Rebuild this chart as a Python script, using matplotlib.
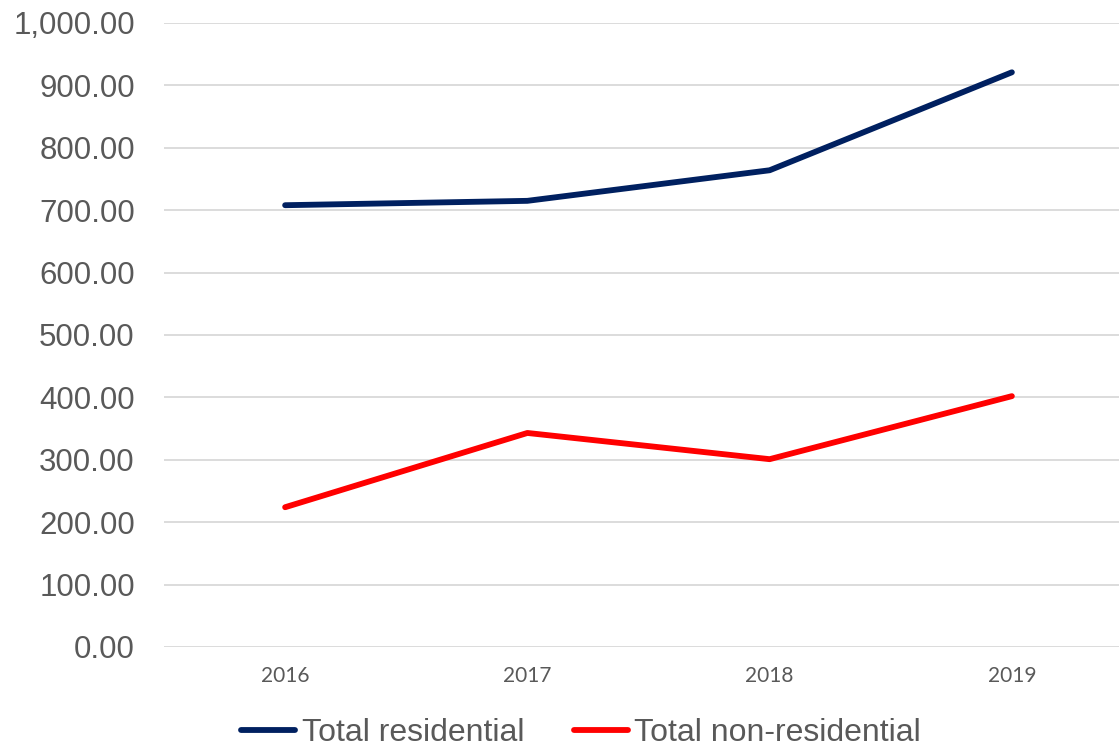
import matplotlib.pyplot as plt
from matplotlib.ticker import FuncFormatter

years = ["2016", "2017", "2018", "2019"]
residential = [708, 715, 764, 921]
non_residential = [224, 343, 301, 402]

plt.rcParams["font.family"] = ["Liberation Sans", "DejaVu Sans"]

fig = plt.figure(figsize=(11.19, 7.49), dpi=100)
ax = fig.add_axes([164 / 1119, 102 / 749, 969 / 1119, 624 / 749])

x = range(len(years))
ax.plot(x, residential, color="#002060", lw=4.2, label="Total residential",
        solid_capstyle="round", zorder=3)
ax.plot(x, non_residential, color="#FF0000", lw=4.2, label="Total non-residential",
        solid_capstyle="round", zorder=3)

ax.set_xlim(-0.5, 3.5)
ax.set_ylim(0, 1000)
ax.set_yticks(range(0, 1001, 100))
ax.yaxis.set_major_formatter(FuncFormatter(lambda v, p: f"{v:,.2f}"))
ax.set_xticks(list(x))
ax.set_xticklabels(years, fontfamily="Lato", fontsize=15, color="#595959")
ax.tick_params(axis="y", length=0, pad=21, labelsize=22.5, labelcolor="#595959")
ax.tick_params(axis="x", length=0, pad=14)
ax.grid(axis="y", color="#D9D9D9", lw=1.3)
ax.set_axisbelow(True)
for s in ax.spines.values():
    s.set_visible(False)

fig.legend(loc="center", bbox_to_anchor=(581 / 1119, 16 / 749), ncol=2,
           frameon=False, fontsize=23, handlelength=1.7, handletextpad=0.2,
           columnspacing=1.55, labelcolor="#595959")

fig.savefig("out.png", dpi=100)
